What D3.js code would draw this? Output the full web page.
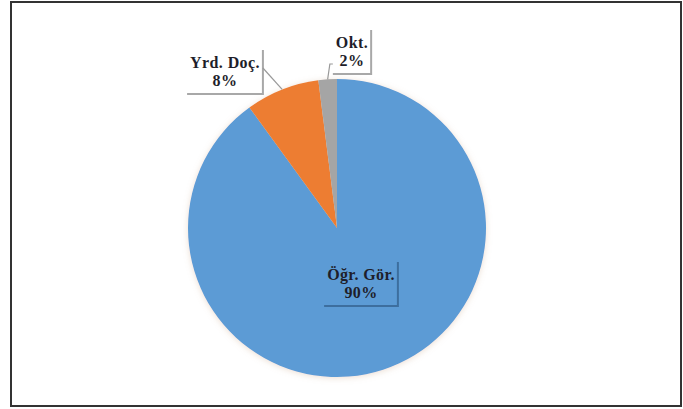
<!DOCTYPE html>
<html>
<head>
<meta charset="utf-8">
<script src="https://cdn.jsdelivr.net/npm/d3@7"></script>
<style>
  html, body { margin: 0; padding: 0; background: #fff; }
  svg { display: block; }
</style>
</head>
<body>
<div id="chart"></div>
<script>
// Pie chart - academic staff distribution
const categories = ['Öğr. Gör.', 'Yrd. Doç.', 'Okt.'];
const values = [90, 8, 2];
const colors = ['#5b9bd5', '#ed7d31', '#a5a5a5'];

const w = 683, h = 409;
const cx = 337, cy = 228, r = 149;

// label placement relative to pie centre (layout only)
const labelPos = [
    { dx: 24, dy: 52, leader: false },
    { dx: -112, dy: -160, leader: true },
    { dx: 15, dy: -180, leader: true }
];

const svg = d3.select('#chart')
    .append('svg')
    .attr('width', w)
    .attr('height', h);

const defs = svg.append('defs');
const sh = defs.append('filter').attr('id', 'pieShadow')
    .attr('x', '-10%').attr('y', '-10%').attr('width', '120%').attr('height', '120%');
sh.append('feDropShadow').attr('dx', 0).attr('dy', 1).attr('stdDeviation', 3)
    .attr('flood-color', '#c8a080').attr('flood-opacity', 0.35);
const bl = defs.append('filter').attr('id', 'soft');
bl.append('feGaussianBlur').attr('stdDeviation', 0.6);

// frame
svg.append('rect')
    .attr('x', 11).attr('y', 2)
    .attr('width', 670).attr('height', 404)
    .attr('fill', 'none')
    .attr('stroke', '#333')
    .attr('stroke-width', 2);

const pie = d3.pie().sort(null).value(d => d)(values);
const arc = d3.arc().innerRadius(0).outerRadius(r);

const g = svg.append('g').attr('transform', `translate(${cx},${cy})`);

g.append('g').style('filter', 'url(#pieShadow)')
    .selectAll('path')
    .data(pie)
    .join('path')
    .attr('d', arc)
    .attr('fill', (d, i) => colors[i]);

const pct = d3.format('.0%');
const total = d3.sum(values);

pie.forEach((d, i) => {
    const p = labelPos[i];
    const lg = g.append('g').attr('transform', `translate(${p.dx},${p.dy})`);
    const txt = lg.append('text')
        .attr('text-anchor', 'middle')
        .attr('font-family', '"Liberation Serif", "DejaVu Serif", serif')
        .attr('font-weight', 'bold')
        .attr('font-size', '16px')
        .attr('letter-spacing', '0.4px')
        .attr('fill', '#1e1e2a');
    txt.append('tspan').attr('x', 0).attr('y', 0).text(categories[i]);
    txt.append('tspan').attr('x', 0).attr('y', 18).text(pct(values[i] / total));

    const bb = txt.node().getBBox();
    const x0 = bb.x - 3, x1 = bb.x + bb.width + 3;
    const y0 = bb.y - 4, y1 = bb.y + bb.height + 5;
    const shadowCol = i === 0 ? '#3c6e9e' : '#a8a8a8';
    lg.insert('path', 'text')
        .attr('d', `M${x1},${y0} L${x1},${y1} L${x0},${y1}`)
        .attr('fill', 'none')
        .attr('stroke', shadowCol)
        .attr('stroke-width', 2)
        .style('filter', 'url(#soft)');

    if (p.leader) {
        const a = (d.startAngle + d.endAngle) / 2;
        const ex = r * Math.sin(a), ey = -r * Math.cos(a);
        let sx, sy;
        if (i === 1) { sx = p.dx + x1; sy = p.dy + y0 + 18; }
        else { sx = p.dx + x0; sy = p.dy + 16; }
        const pts = i === 2 ? [[sx, sy], [sx - 3, sy], [ex, ey]] : [[sx, sy], [ex, ey]];
        g.append('path')
            .attr('d', d3.line()(pts))
            .attr('fill', 'none')
            .attr('stroke', '#999')
            .attr('stroke-width', 1.2);
    }
});
</script>
</body>
</html>
